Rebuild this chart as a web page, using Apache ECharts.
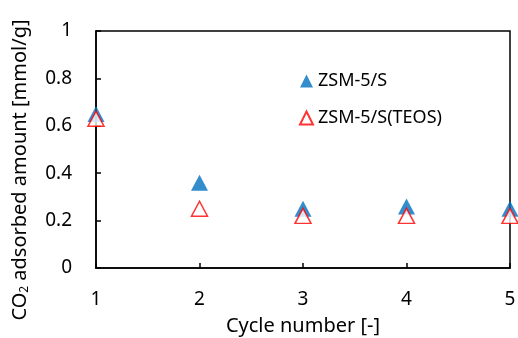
<!DOCTYPE html>
<html>
<head>
<meta charset="utf-8">
<script src="https://cdn.jsdelivr.net/npm/echarts@6/dist/echarts.min.js"></script>
<style>
  html, body { margin: 0; padding: 0; background: #fff; }
  #chart { width: 518px; height: 338px; }
</style>
</head>
<body>
<div id="chart"></div>
<script>
// cycle numbers and adsorbed amounts
const cycles = [1, 2, 3, 4, 5]
const zsmS = [0.65, 0.36, 0.25, 0.26, 0.25]
const zsmTeos = [0.63, 0.25, 0.22, 0.22, 0.22]

const font = '"Noto Sans", "Open Sans", sans-serif'
const chart = echarts.init(document.getElementById('chart'), null, { renderer: 'canvas' })

const option = {
  backgroundColor: '#fff',
  animation: false,
  textStyle: { fontFamily: font },
  grid: {
    left: 96, right: 8, top: 31, bottom: 70,
    outerBoundsMode: 'none',
    containLabel: false,
    show: true, borderColor: '#000', borderWidth: 1.5,
  },
  legend: {
    orient: 'vertical',
    left: 294,
    top: 67,
    itemGap: 19,
    itemWidth: 13,
    itemHeight: 13,
    textStyle: { fontSize: 18, color: '#000', fontFamily: font },
    data: ['ZSM-5/S', 'ZSM-5/S(TEOS)'],
  },
  // y title placed by hand: in the figure it sits lower than the axis middle
  graphic: [{
    type: 'text',
    x: 20,
    y: 170,
    rotation: Math.PI / 2,
    style: {
      text: '{a|CO}{s|2}{a| adsorbed amount [mmol/g]}',
      align: 'center',
      verticalAlign: 'middle',
      rich: {
        a: { fontSize: 20, fill: '#000', fontFamily: font },
        s: { fontSize: 12, fill: '#000', fontFamily: font, verticalAlign: 'bottom', padding: [10, 0, 0, 0] },
      },
    },
  }],
  xAxis: {
    type: 'value',
    min: 1, max: 5, interval: 1,
    name: 'Cycle number [-]',
    nameLocation: 'middle',
    nameGap: 48,
    nameTextStyle: { fontSize: 20, color: '#000', fontFamily: font },
    axisLine: { lineStyle: { color: '#000', width: 1.5 } },
    axisTick: { inside: true, length: 5, lineStyle: { color: '#000', width: 1.5 } },
    axisLabel: { fontSize: 19, color: '#000', margin: 22 },
    splitLine: { show: false },
  },
  yAxis: {
    type: 'value',
    min: 0, max: 1, interval: 0.2,
    axisLine: { show: true, lineStyle: { color: '#000', width: 1.5 } },
    axisTick: { show: true, inside: true, length: 5, lineStyle: { color: '#000', width: 1.5 } },
    axisLabel: { fontSize: 19, color: '#000', margin: 24 },
    splitLine: { show: false },
  },
  series: [
    {
      name: 'ZSM-5/S',
      type: 'scatter',
      symbol: 'triangle',
      symbolSize: [17, 16],
      itemStyle: { color: '#0070C0' },
      data: cycles.map((c, i) => [c, zsmS[i]]),
      z: 2,
    },
    {
      name: 'ZSM-5/S(TEOS)',
      type: 'scatter',
      symbol: 'triangle',
      symbolSize: [16, 15],
      itemStyle: { color: '#fff', borderColor: '#FF0000', borderWidth: 1.5 },
      data: cycles.map((c, i) => [c, zsmTeos[i]]),
      z: 3,
    },
  ],
}

chart.setOption(option)
</script>
</body>
</html>
